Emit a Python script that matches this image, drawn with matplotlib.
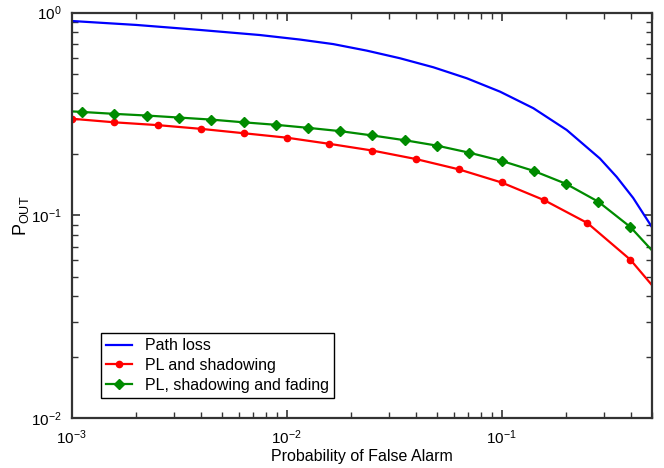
import matplotlib
matplotlib.use('Agg')
import matplotlib.pyplot as plt
from matplotlib.ticker import LogLocator, NullFormatter

plt.rcParams['font.family'] = ['Liberation Sans', 'DejaVu Sans']
plt.rcParams['mathtext.fontset'] = 'custom'
plt.rcParams['mathtext.rm'] = 'Liberation Sans'
plt.rcParams['mathtext.it'] = 'Liberation Sans:italic'
plt.rcParams['axes.unicode_minus'] = False

# outage probability vs. probability of false alarm
pfa_pl = [0.001, 0.002, 0.00395, 0.0075, 0.01154, 0.01648, 0.0236, 0.0337,
          0.0482, 0.0689, 0.0984, 0.1407, 0.2011, 0.287, 0.3435, 0.410, 0.5]
pout_pl = [0.910, 0.870, 0.822, 0.776, 0.737, 0.700, 0.650, 0.596,
           0.538, 0.475, 0.408, 0.338, 0.264, 0.191, 0.155, 0.122, 0.088]

pfa_sh = [0.001, 0.00158, 0.00251, 0.00398, 0.00631, 0.01, 0.0158, 0.0251,
          0.0398, 0.0631, 0.1, 0.158, 0.251, 0.398, 0.5]
pout_sh = [0.300, 0.288, 0.279, 0.2675, 0.2545, 0.242, 0.2256, 0.209,
           0.190, 0.169, 0.1455, 0.119, 0.0918, 0.0605, 0.0455]

pfa_fad = [0.001, 0.00112, 0.00158, 0.00224, 0.00316, 0.00447, 0.00631, 0.00891,
           0.0126, 0.0178, 0.0251, 0.0355, 0.0501, 0.0708, 0.1, 0.141,
           0.1995, 0.282, 0.398, 0.5]
pout_fad = [0.326, 0.324, 0.317, 0.311, 0.304, 0.297, 0.288, 0.280,
            0.2705, 0.2605, 0.248, 0.235, 0.221, 0.204, 0.186, 0.166,
            0.1433, 0.117, 0.0877, 0.0675]

fig = plt.figure(figsize=(6.64, 4.68), dpi=100)
ax = fig.add_axes([0.108, 0.1062, 0.8735, 0.8667])

ax.plot(pfa_pl, pout_pl, color='#0000ff', lw=1.6, label='Path loss')
ax.plot(pfa_sh, pout_sh, color='#ff0000', lw=1.6, marker='o', ms=4.5,
        markevery=slice(0, -1), label='PL and shadowing')
ax.plot(pfa_fad, pout_fad, color='#008b00', lw=1.6, marker='D', ms=5.3,
        markevery=slice(1, -1), label='PL, shadowing and fading')

ax.set_xscale('log')
ax.set_yscale('log')
ax.set_xlim(1e-3, 0.5)
ax.set_ylim(1e-2, 1)

for axis in (ax.xaxis, ax.yaxis):
    axis.set_major_locator(LogLocator(base=10))
    axis.set_minor_locator(LogLocator(base=10, subs=range(2, 10)))
    axis.set_minor_formatter(NullFormatter())

ax.tick_params(which='both', direction='in', top=True, right=True,
               colors='#333333', labelcolor='black', labelsize=11)
ax.tick_params(which='major', length=6, width=1.2, pad=7)
ax.tick_params(which='minor', length=4, width=1.0)
for sp in ax.spines.values():
    sp.set_linewidth(1.6)
    sp.set_color('#333333')

ax.set_xlabel('Probability of False Alarm', fontsize=11.5, labelpad=2)
ax.set_ylabel(r'$\mathregular{P_{OUT}}$', fontsize=13, labelpad=0)

leg = ax.legend(loc='lower left', bbox_to_anchor=(0.05, 0.049), borderaxespad=0,
                fontsize=11.5, fancybox=False, framealpha=1, edgecolor='black',
                handlelength=1.6, labelspacing=0.3, borderpad=0.35,
                handletextpad=0.8)
leg.get_frame().set_linewidth(1.0)

fig.savefig('out.png', dpi=100)
